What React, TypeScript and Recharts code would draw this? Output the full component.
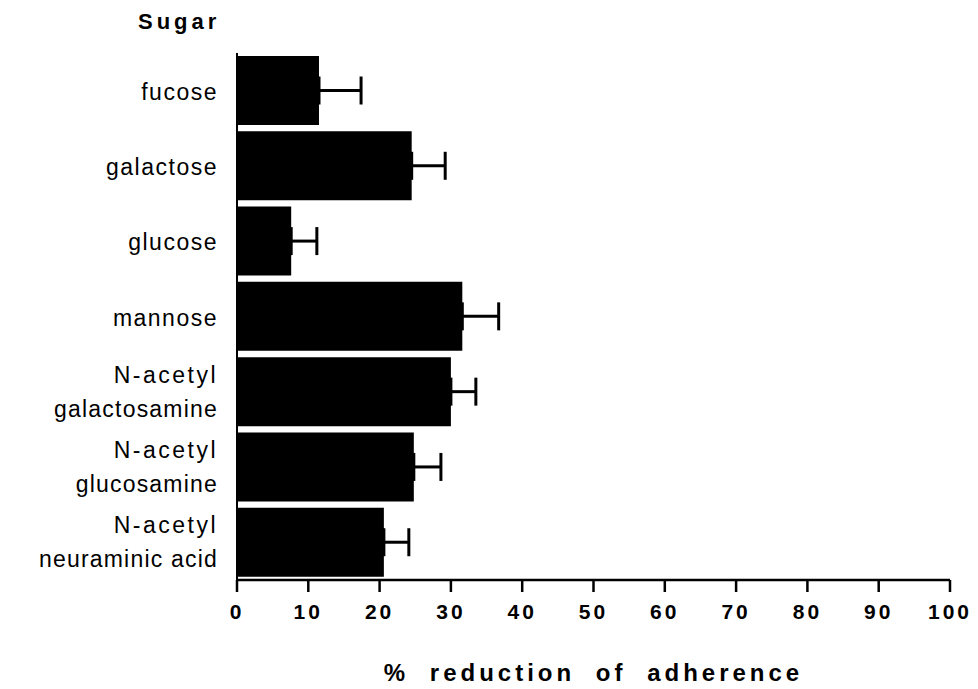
import { BarChart, Bar, XAxis, YAxis, ErrorBar } from 'recharts';

const categories = [
  'fucose',
  'galactose',
  'glucose',
  'mannose',
  'N-acetyl\ngalactosamine',
  'N-acetyl\nglucosamine',
  'N-acetyl\nneuraminic acid',
];
const reduction = [11.5, 24.5, 7.6, 31.6, 30.0, 24.8, 20.6];
const sem = [5.9, 4.7, 3.6, 5.1, 3.5, 3.8, 3.5];
const xTicks = [0, 10, 20, 30, 40, 50, 60, 70, 80, 90, 100];
const edgeTicks = [0, 1, 2, 3, 4, 5, 6, 7];

const data = categories.map((sugar, i) => ({
  sugar,
  value: reduction[i],
  err: [0, sem[i]],
}));

const FONT = '"Liberation Sans", Arial, Helvetica, sans-serif';

function SugarTick(props: any) {
  const { x, y, payload } = props;
  const lines = String(payload.value).split('\n');
  const style = { fontFamily: FONT, fontSize: 23, fill: '#000' };
  if (lines.length === 1) {
    return (
      <text x={x} y={y + 9} textAnchor="end" style={style} letterSpacing={1.5}>
        {lines[0]}
      </text>
    );
  }
  return (
    <text x={x} y={y} textAnchor="end" style={style}>
      <tspan x={x} y={y - 9} letterSpacing={2.5}>{lines[0]}</tspan>
      <tspan x={x} y={y + 25} letterSpacing={1.2}>{lines[1]}</tspan>
    </text>
  );
}

export default function App() {
  return (
    <div
      style={{
        position: 'fixed',
        left: 0,
        top: 0,
        width: 978,
        height: 689,
        background: '#fff',
        fontFamily: FONT,
      }}
    >
      <div
        style={{
          position: 'absolute',
          left: 138,
          top: 9,
          fontSize: 22,
          fontWeight: 'bold',
          letterSpacing: 4,
          lineHeight: '26px',
          color: '#000',
        }}
      >
        Sugar
      </div>
      <BarChart
        width={978}
        height={689}
        data={data}
        layout="vertical"
        barCategoryGap="4%"
        margin={{ top: 53, right: 28, left: 33, bottom: 0 }}
      >
        <XAxis
          type="number"
          domain={[0, 100]}
          ticks={xTicks}
          interval={0}
          height={109}
          tickSize={12}
          tickMargin={12}
          stroke="#000"
          strokeWidth={2.5}
          tick={{ fill: '#000', fontSize: 21, fontWeight: 'bold', fontFamily: FONT, letterSpacing: 3 }}
          label={{
            value: '% reduction of adherence',
            position: 'insideBottom',
            offset: 8,
            style: { fill: '#000', fontSize: 24, fontWeight: 'bold', fontFamily: FONT, letterSpacing: 4, wordSpacing: 10 },
          }}
        />
        <YAxis
          yAxisId="a"
          type="number"
          domain={[0, 7]}
          ticks={edgeTicks}
          interval={0}
          width={4}
          tickSize={4}
          tick={false}
          stroke="#000"
          strokeWidth={2}
        />
        <YAxis
          yAxisId="b"
          type="category"
          dataKey="sugar"
          width={200}
          axisLine={false}
          tickLine={false}
          tickSize={0}
          tickMargin={15}
          interval={0}
          tick={<SugarTick />}
        />
        <Bar yAxisId="b" dataKey="value" fill="#000" isAnimationActive={false}>
          <ErrorBar dataKey="err" direction="x" width={14} stroke="#000" strokeWidth={3} />
        </Bar>
      </BarChart>
    </div>
  );
}
